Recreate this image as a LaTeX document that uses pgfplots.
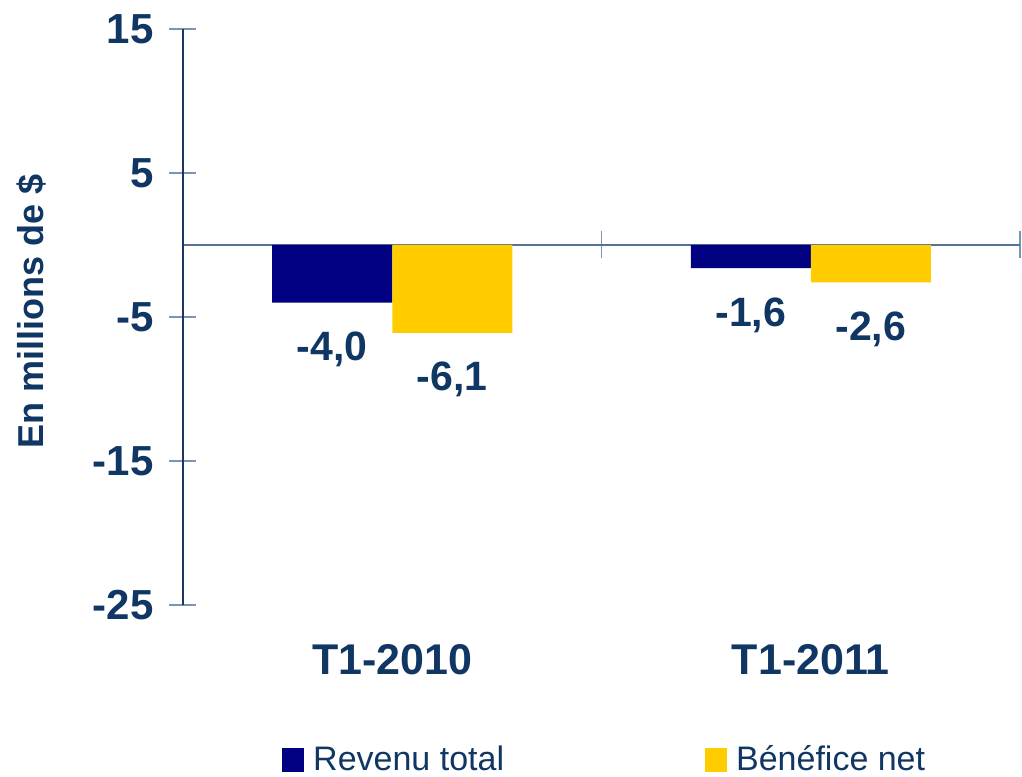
\documentclass[border=0pt]{standalone}
\usepackage{fontspec}
\setmainfont{Liberation Sans}
\usepackage{pgfplots}
\pgfplotsset{compat=1.18}
\definecolor{navybar}{RGB}{0,0,128}
\definecolor{goldbar}{RGB}{255,204,0}
\definecolor{txtblue}{RGB}{16,54,100}
\definecolor{axisdark}{RGB}{25,55,95}
\definecolor{tickblue}{RGB}{120,150,180}
\definecolor{zeroline}{RGB}{85,115,150}

\begin{document}
\begin{tikzpicture}
\begin{axis}[
    scale only axis,
    width=418.5pt, height=288pt,
    ybar=0pt, bar width=60pt,
    xmin=-0.5, xmax=1.5, ymin=-25, ymax=15,
    axis y line=left, axis x line=middle,
    y axis line style={draw=axisdark, line width=0.9pt, -},
    x axis line style={draw=zeroline, line width=0.9pt, -},
    ytick={-25,-15,-5,5,15},
    xtick={0.5,1.5}, xticklabels={{},{}},
    tick align=center, major tick length=13.5pt,
    tick style={draw=tickblue, line width=0.9pt},
    y tick label style={font=\fontsize{21}{25}\selectfont\bfseries, text=txtblue,
        xshift=-4.5pt, /pgf/number format/assume math mode=true},
    extra x ticks={0,1},
    extra x tick labels={T1-2010,T1-2011},
    extra x tick style={major tick length=0pt,
        x tick label style={anchor=center, yshift=-207.5pt,
        font=\fontsize{21.5}{25}\selectfont\bfseries, text=txtblue}},
    ylabel={En millions de \$},
    ylabel style={at={(axis description cs:-0.1816,0.51)}, anchor=center,
        font=\fontsize{18}{22}\selectfont\bfseries, text=txtblue},
    nodes near coords,
    nodes near coords style={font=\fontsize{20.5}{24}\selectfont\bfseries, text=txtblue,
        /pgf/number format/fixed, /pgf/number format/fixed zerofill,
        /pgf/number format/precision=1, /pgf/number format/use comma,
        /pgf/number format/assume math mode=true},
    every node near coord/.append style={anchor=center, yshift=-23.5pt},
    legend columns=2,
    legend style={draw=none, fill=none, at={(0.505,-0.269)}, anchor=center,
        font=\fontsize{17}{20}\selectfont, text=txtblue,
        /tikz/every odd column/.append style={column sep=2.5pt},
        /tikz/every even column/.append style={column sep=98.5pt}},
    legend image code/.code={\draw[#1, draw=none] (0pt,-6pt) rectangle (11pt,6pt);},
    clip=false,
]
\addplot[fill=navybar, draw=none] coordinates {(0,-4.0) (1,-1.6)};
\addplot[fill=goldbar, draw=none] coordinates {(0,-6.1) (1,-2.6)};
\legend{Revenu total, Bénéfice net}
\end{axis}
\pgfresetboundingbox
\path ([shift={(-91.5pt,-86pt)}]current axis.south west) rectangle ([shift={(1pt,14.5pt)}]current axis.north east);
\end{tikzpicture}
\end{document}
